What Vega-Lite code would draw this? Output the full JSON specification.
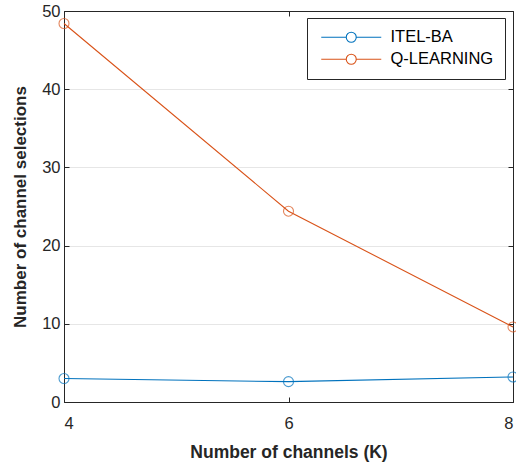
{
  "$schema": "https://vega.github.io/schema/vega-lite/v6.json",
  "width": 449,
  "height": 391,
  "autosize": "none",
  "padding": {"left": 64, "top": 11, "right": 3, "bottom": 61},
  "background": "white",
  "config": {
    "view": {"stroke": "#262626", "strokeWidth": 1},
    "font": "Liberation Sans",
    "axis": {
      "domainColor": "#262626",
      "tickColor": "#262626",
      "labelColor": "#262626",
      "titleColor": "#262626",
      "labelFont": "Liberation Sans",
      "titleFont": "Liberation Sans",
      "labelFontSize": 16.5,
      "titleFontSize": 17,
      "titleFontWeight": "bold"
    }
  },
  "data": {
    "values": [
      {"k": 4, "v": 3.0, "method": "ITEL-BA"},
      {"k": 6, "v": 2.6, "method": "ITEL-BA"},
      {"k": 8, "v": 3.2, "method": "ITEL-BA"},
      {"k": 4, "v": 48.4, "method": "Q-LEARNING"},
      {"k": 6, "v": 24.4, "method": "Q-LEARNING"},
      {"k": 8, "v": 9.6, "method": "Q-LEARNING"}
    ]
  },
  "resolve": {"axis": {"x": "independent", "y": "independent"}},
  "layer": [
    {
      "mark": {"type": "line", "strokeWidth": 1.1, "clip": false},
      "encoding": {
        "x": {"field": "k", "type": "quantitative", "scale": {"domain": [4, 8], "nice": false, "zero": false},
          "axis": {"values": [4, 6, 8], "title": "Number of channels (K)", "titleFontSize": 17.5, "grid": false, "tickSize": -5, "labelPadding": 18, "titlePadding": 12, "domain": true, "orient": "bottom"}},
        "y": {"field": "v", "type": "quantitative", "scale": {"domain": [0, 50], "nice": false},
          "axis": {"values": [0, 10, 20, 30, 40, 50], "title": "Number of channel selections", "grid": true, "gridColor": "#e6e6e6", "tickSize": -5, "labelPadding": 9, "titlePadding": 12, "orient": "left"}},
        "color": {"field": "method", "type": "nominal",
          "scale": {"domain": ["ITEL-BA", "Q-LEARNING"], "range": ["#0072BD", "#D95319"]},
          "legend": {
            "title": null, "orient": "none", "legendX": 243, "legendY": 7,
            "symbolType": "M-1,0L4,0M6,0L11,0M4,0A1,1,0,1,1,6,0A1,1,0,1,1,4,0",
            "symbolSize": 100, "symbolStrokeWidth": 1.1, "symbolFillColor": "transparent",
            "labelFont": "Liberation Sans", "labelFontSize": 16.5, "labelColor": "#000000",
            "strokeColor": "#262626", "fillColor": "white", "padding": 11, "rowPadding": 5, "labelOffset": 56
          }}
      }
    },
    {
      "mark": {"type": "point", "shape": "circle", "filled": false, "size": 100, "strokeWidth": 1.1, "clip": false},
      "encoding": {
        "x": {"field": "k", "type": "quantitative", "axis": {"orient": "top", "values": [4, 6, 8], "labels": false, "title": null, "tickSize": -5, "grid": false}},
        "y": {"field": "v", "type": "quantitative", "axis": {"orient": "right", "values": [0, 10, 20, 30, 40, 50], "labels": false, "title": null, "tickSize": -5, "grid": false}},
        "color": {"field": "method", "type": "nominal", "legend": null}
      }
    }
  ]
}
